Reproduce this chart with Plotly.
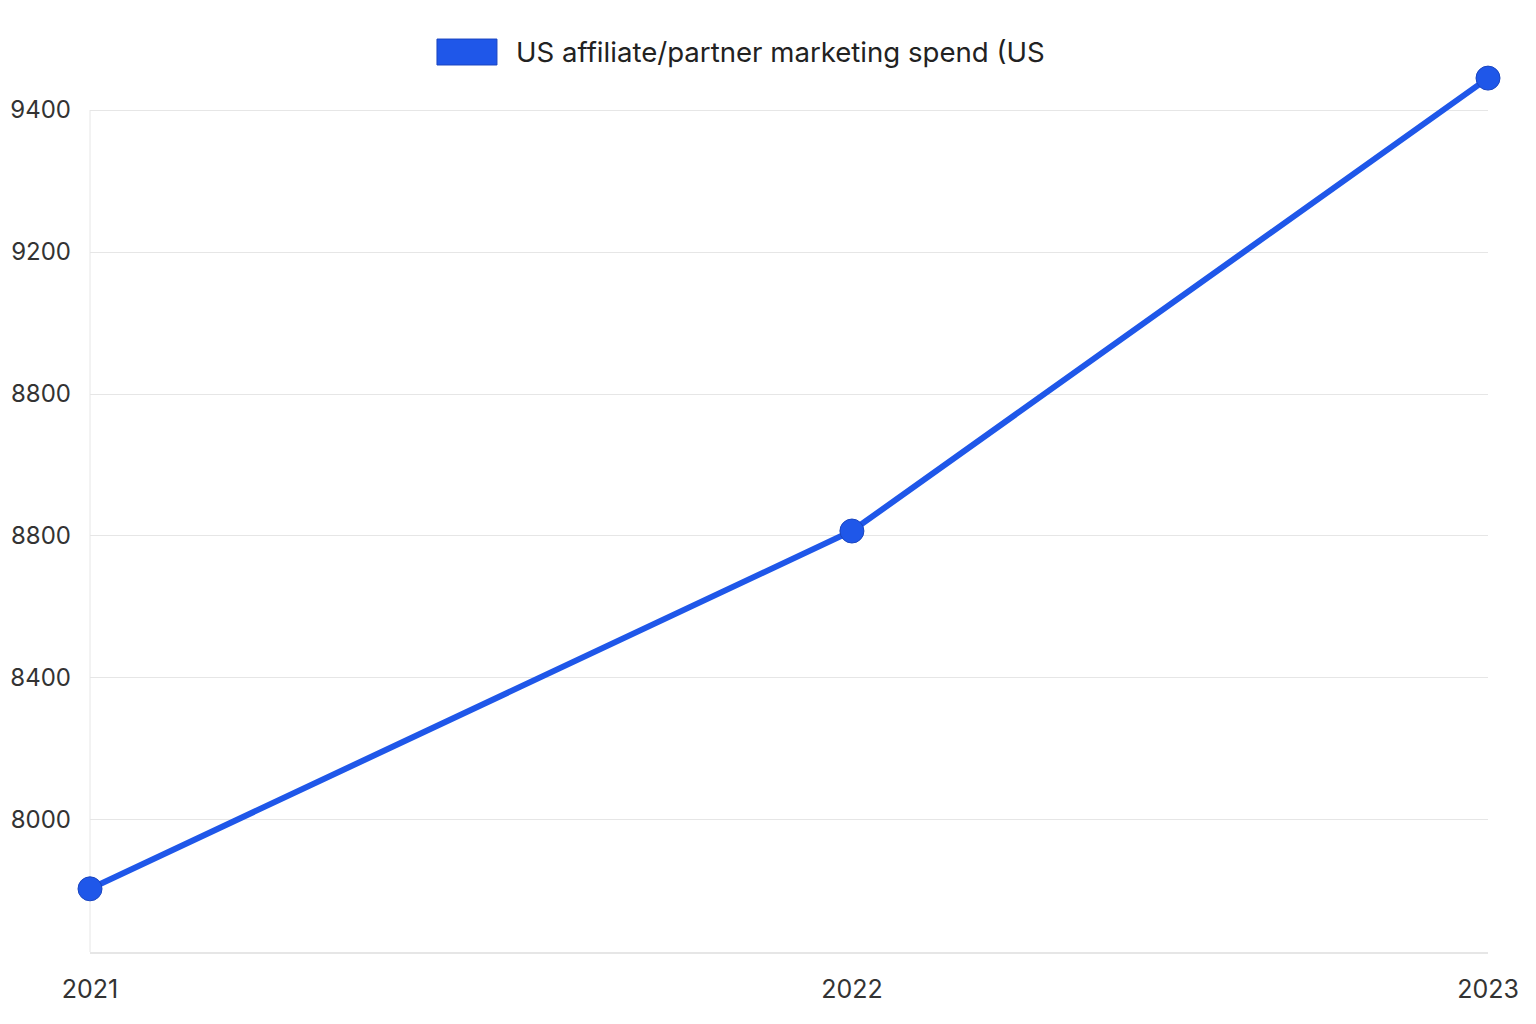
import plotly.graph_objects as go

# data (the 2022 point sits a bit right of centre)
years = [2021, 2022.09, 2023]
year_labels = ["2021", "2022", "2023"]
spend = [7806, 8814, 10090]

# gridlines are evenly spaced, the reference labels them as below
tick_vals = [8000, 8400, 8800, 9200, 9600, 10000]
tick_text = ["8000", "8400", "8800", "8800", "9200", "9400"]
series_name = "US affiliate/partner marketing spend (US"

y_range = [7628, 10141]   # top padded so the last segment isn't clipped

blue = "#1f57e9"
edge = "#1a45c0"
font = "Inter, Roboto, sans-serif"

fig = go.Figure()
fig.add_trace(go.Scatter(
    x=years, y=spend, mode="lines+markers", name=series_name,
    line=dict(color=blue, width=6),
    marker=dict(size=24, color=blue, line=dict(color=edge, width=1)),
    cliponaxis=False, showlegend=False,
))

# left axis line only up to the top gridline
fig.add_shape(type="line", xref="paper", yref="y",
              x0=0, x1=0, y0=y_range[0], y1=tick_vals[-1],
              line=dict(color="#e6e6e6", width=1), layer="below")

# legend drawn by hand so the swatch is a wide rectangle
fig.add_shape(type="rect", xref="paper", yref="paper",
              x0=0.2482, x1=0.2911, y0=0.9944, y1=1.0235,
              fillcolor=blue, line=dict(color=edge, width=1))
fig.add_annotation(text=series_name, xref="paper", yref="paper",
                   x=0.3033, y=1.0090, xanchor="left", yanchor="middle",
                   showarrow=False, font=dict(family=font, size=27.6, color="#222"))

fig.update_layout(
    width=1536, height=1024,
    margin=dict(l=82, r=56, t=52, b=80),
    plot_bgcolor="white", paper_bgcolor="white",
    font=dict(family=font, size=24, color="#333"),
)
fig.update_xaxes(
    range=[years[0], years[-1]], tickvals=years, ticktext=year_labels,
    showgrid=False, zeroline=False, automargin=False,
    showline=True, linecolor="#e6e6e6", linewidth=2,
    ticks="", ticklabelstandoff=14, tickfont=dict(size=25),
)
fig.update_yaxes(
    range=y_range, tickvals=tick_vals, ticktext=tick_text,
    showgrid=True, gridcolor="#e6e6e6", gridwidth=1, zeroline=False,
    showline=False, automargin=False,
    ticks="", ticklabelstandoff=18,
)

fig.write_html("out.html")
